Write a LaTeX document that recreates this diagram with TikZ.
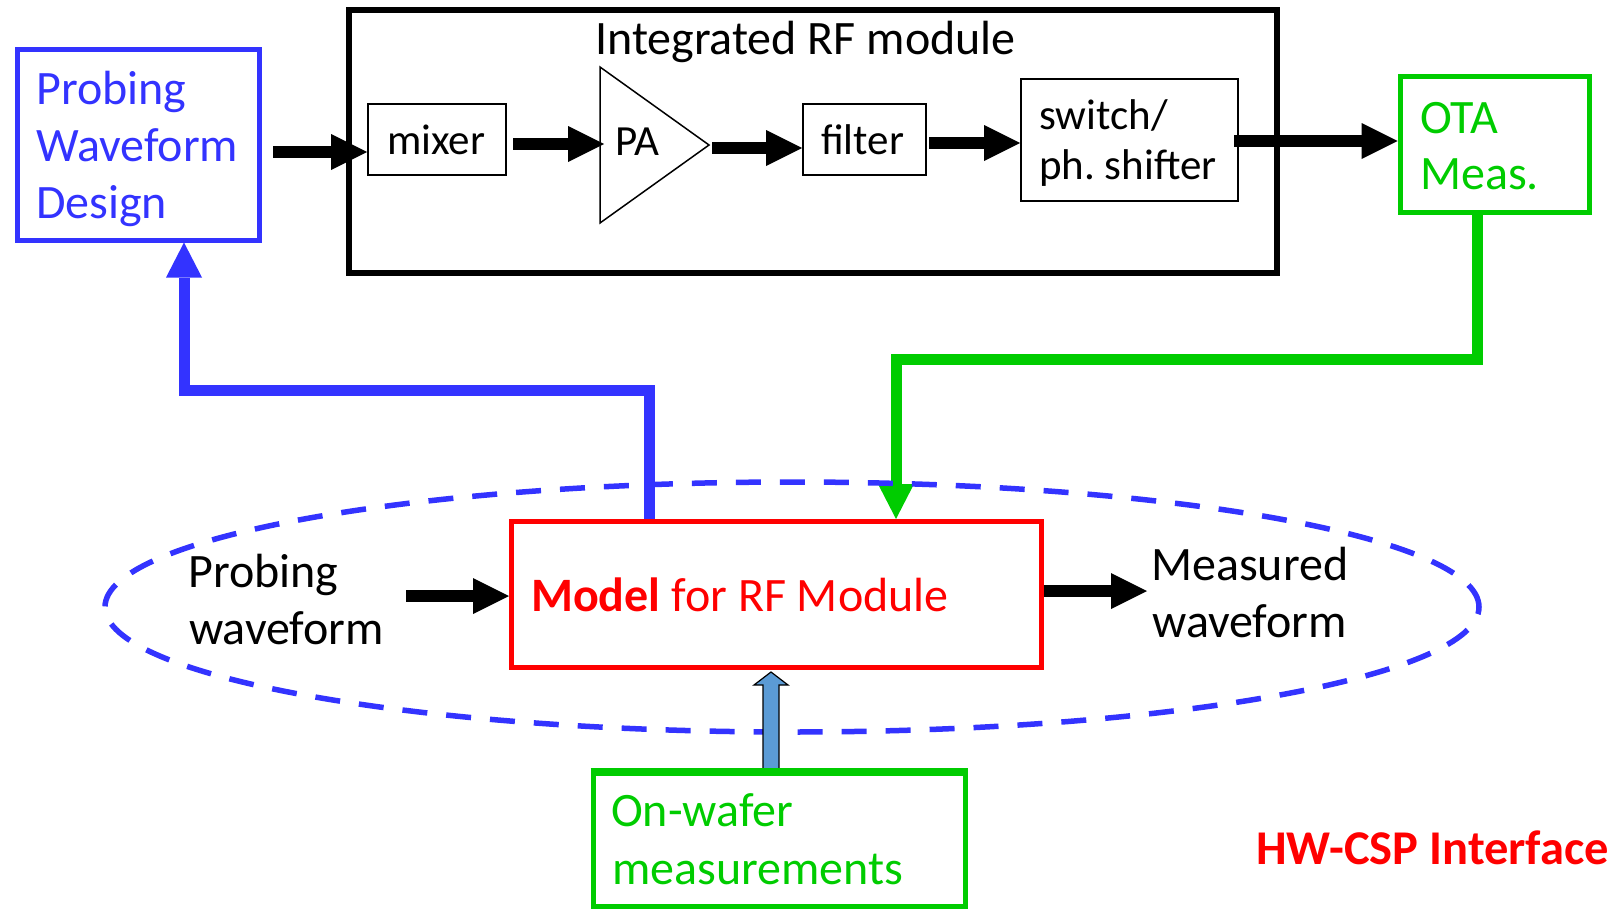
\documentclass[tikz,border=0pt]{standalone}
\usepackage{fontspec}
\setmainfont{Carlito}
\frenchspacing
\usetikzlibrary{arrows.meta,shapes.geometric,calc}
\definecolor{pblue}{RGB}{51,51,255}
\definecolor{pgreen}{RGB}{0,204,0}
\definecolor{pred}{RGB}{255,0,0}
\definecolor{lblue}{RGB}{91,155,213}
\begin{document}
\begin{tikzpicture}[x=1pt,y=-1pt,
  bigtxt/.style={font=\fontsize{48}{58}\selectfont, inner sep=0pt, anchor=base west},
  smalltxt/.style={font=\fontsize{43}{52}\selectfont, inner sep=0pt, anchor=base west},
  thinbox/.style={draw=black, line width=1.8pt, inner sep=0pt},
  fatbox/.style={line width=5pt, inner sep=0pt},
  blk/.style={line width=12pt, -{Triangle[length=36pt,width=36pt,line width=0pt]}},
  route/.style={line width=11pt, -{Triangle[length=35pt,width=36pt,line width=0pt]}},
  waferarrow/.style={draw=black, line width=1.2pt, fill=lblue, line join=miter},
  csp/.style={ellipse, draw=pblue, line width=5.5pt, dash pattern=on 25pt off 19pt}]
\useasboundingbox (0,0) rectangle (1609,910);

% ---------- boxes ----------
\node[fatbox, draw=pblue, minimum width=241.5pt, minimum height=191pt] (pwd) at (138.25,144.5) {};
\node[draw=black, line width=6pt, minimum width=928pt, minimum height=263pt, inner sep=0pt] (rf) at (813,141.5) {};
\node[thinbox, minimum width=138pt, minimum height=71pt] (mixer) at (437,139.5) {};
\node[thinbox, minimum width=123pt, minimum height=71pt] (filter) at (864.5,139.5) {};
\node[thinbox, minimum width=217pt, minimum height=122pt] (switch) at (1129.5,140) {};
\node[fatbox, draw=pgreen, minimum width=189pt, minimum height=136pt] (ota) at (1494.5,144) {};
\node[fatbox, draw=pred, minimum width=529.5pt, minimum height=146pt] (model) at (776.25,594.5) {};

% amplifier symbol
\draw[line width=1.5pt, line join=miter] (600,67) -- (709,145) -- (600,223) -- cycle;
\coordinate (paL) at (604,145);
\coordinate (paR) at (709,145);

% ---------- feedback routes ----------
\coordinate (b1) at (649,390);
\coordinate (b2) at (184,390);
\draw[route, draw=pblue] (model.north -| b1) -- (b1) -- (b2) -- (pwd.south -| b2);

\coordinate (g1) at (1477,359);
\coordinate (g2) at (896,359);
\draw[route, draw=pgreen] (ota.south -| g1) -- (g1) -- (g2) -- (model.north -| g2);

% ---------- interface ellipse ----------
\node[csp, minimum width=1374pt, minimum height=250pt, inner sep=0pt] (iface) at (792,607) {};

% ---------- signal chain ----------
\coordinate (s0) at (273,152);
\draw[blk] (s0) -- (s0 -| mixer.west);
\coordinate (s1) at (513,144);
\draw[blk] (s1) -- (s1 -| paL);
\coordinate (s2) at (712,148);
\draw[blk] (s2) -- (s2 -| filter.west);
\coordinate (s3) at (929,143);
\draw[blk] (s3) -- (s3 -| switch.west);
\coordinate (s4) at (1234,141);
\draw[blk] (s4) -- (s4 -| ota.west);

\coordinate (p0) at (406,596);
\draw[blk] (p0) -- (p0 -| model.west);
\coordinate (p1) at (1147,591);
\draw[blk] (model.east |- p1) -- (p1);

% on-wafer data feeding the model
\node[fatbox, draw=pgreen, minimum width=372pt, minimum height=133pt] (wafer) at (779,839.5) {};
\coordinate (bx) at (771,0);
\coordinate (mb) at (model.south -| bx);
\coordinate (wt) at (wafer.north -| bx);
\draw[waferarrow] ($(wt)+(-8pt,0)$) -- ($(mb)+(-8pt,-15pt)$) -- ($(mb)+(-17pt,-15pt)$)
  -- ($(mb)+(0,-2pt)$) -- ($(mb)+(17pt,-15pt)$) -- ($(mb)+(8pt,-15pt)$) -- ($(wt)+(8pt,0)$) -- cycle;
\draw[pgreen, line width=5pt] (wafer.north west) -- (wafer.north east);

% ---------- texts ----------
\node[bigtxt, text=pblue] (t1) at (36,104) {Probing};
\node[bigtxt, text=pblue] (t2) at (36,161) {Waveform};
\node[bigtxt, text=pblue] (t3) at (36,218) {Design};
\node[font=\fontsize{48}{58}\selectfont, inner sep=0pt, anchor=base] (title) at (805.5,54) {Integrated RF module};
\node[smalltxt] (tmix) at (387,154) {mixer};
\node[smalltxt] (tpa) at (615,155) {PA};
\node[smalltxt] (tfil) at (821,154) {filter};
\node[smalltxt] (tsw1) at (1039,129) {switch/};
\node[smalltxt] (tsw2) at (1039,179) {ph. shifter};
\node[bigtxt, text=pgreen] (tota1) at (1420,133) {OTA};
\node[bigtxt, text=pgreen] (tota2) at (1420,189) {Meas.};
\node[bigtxt] (tin1) at (188,587) {Probing};
\node[bigtxt] (tin2) at (189,644) {waveform};
\node[bigtxt, text=pred] (tmod) at (531,611) {\textbf{Model} for RF Module};
\node[bigtxt] (tout1) at (1151,580) {Measured};
\node[bigtxt] (tout2) at (1152,637) {waveform};
\node[bigtxt, text=pgreen] (tw1) at (611,826) {On-wafer};
\node[bigtxt, text=pgreen] (tw2) at (612,884) {measurements};
\node[font=\fontsize{48.5}{58}\selectfont\bfseries, text=pred, inner sep=0pt, anchor=base west] (hw) at (1256,864) {HW-CSP Interface};
\end{tikzpicture}
\end{document}
